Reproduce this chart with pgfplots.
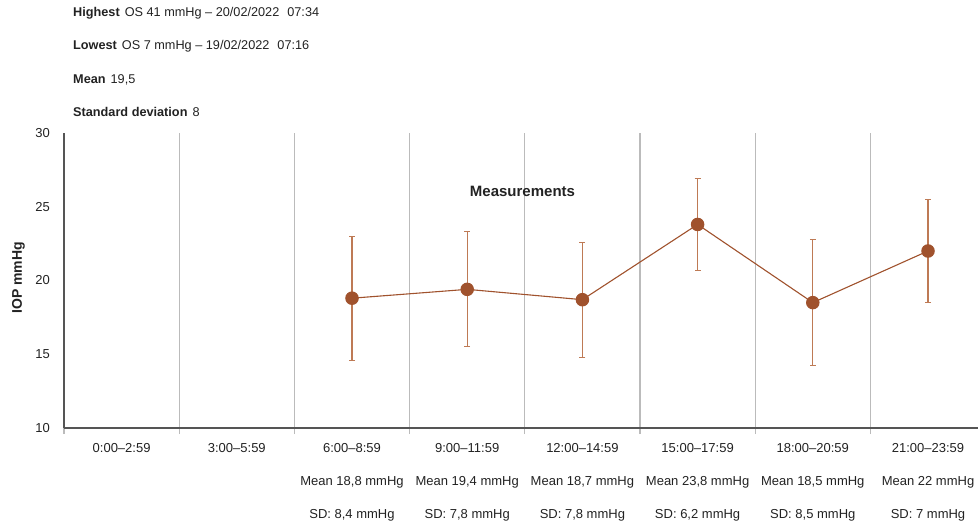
\documentclass[border=0pt]{standalone}
\usepackage{pgfplots}
\pgfplotsset{compat=1.18}
\usepackage{fontspec}
\setmainfont{Liberation Sans}
\definecolor{iop}{HTML}{A0522D}
\definecolor{iopbar}{HTML}{BE7A55}
\definecolor{txt}{HTML}{222222}
\definecolor{gridc}{HTML}{BBBBBB}
\definecolor{axc}{HTML}{555555}
\pgfplotstableread{
x y e
2 18.8 4.2
3 19.4 3.9
4 18.7 3.9
5 23.8 3.1
6 18.5 4.25
7 22.0 3.5
}\iopdata
\begin{document}
\begin{tikzpicture}
\begin{axis}[
  at={(64pt,-428pt)}, anchor=south west,
  scale only axis, width=914.7pt, height=295pt,
  xmin=-0.5, xmax=7.44, ymin=10, ymax=30,
  axis x line=bottom, axis y line=left,
  axis line style={-, axc, line width=1.1pt},
  /pgf/number format/assume math mode=true,
  ytick={10,15,20,25,30},
  major tick length=0pt,
  yticklabel style={font=\fontsize{13}{13}\selectfont, text=txt, inner xsep=0pt, xshift=-14pt},
  xtick={0,...,7},
  xticklabels={
    {0:00–2:59},
    {3:00–5:59},
    {6:00–8:59\\Mean 18,8 mmHg\\SD: 8,4 mmHg},
    {9:00–11:59\\Mean 19,4 mmHg\\SD: 7,8 mmHg},
    {12:00–14:59\\Mean 18,7 mmHg\\SD: 7,8 mmHg},
    {15:00–17:59\\Mean 23,8 mmHg\\SD: 6,2 mmHg},
    {18:00–20:59\\Mean 18,5 mmHg\\SD: 8,5 mmHg},
    {21:00–23:59\\Mean 22 mmHg\\SD: 7 mmHg}},
  xticklabel style={font=\fontsize{13}{33}\selectfont, text=txt, align=center, yshift=-12pt},
  minor xtick={-0.5,0.5,1.5,2.5,3.5,4.5,5.5,6.5},
  xminorgrids=true,
  minor grid style={gridc, line width=1.1pt},
  minor tick length=6pt,
  tick align=outside,
  minor x tick style={gridc, line width=1.1pt},
  clip=false,
]
\addplot[iop, line width=1.1pt, mark=*, mark size=6.2pt,
  mark options={fill=iop, draw=iop},
  error bars/.cd, y dir=both, y explicit,
  error bar style={iopbar, line width=1.3pt},
  error mark options={rotate=90, mark size=3pt, iopbar, line width=1.1pt}]
  table[x=x, y=y, y error=e] {\iopdata};
\node[font=\bfseries\fontsize{15}{15}\selectfont, text=txt] at (axis cs:3.48,26.07) {Measurements};
\end{axis}
\node[anchor=base west, text=txt, font=\fontsize{12.7}{12.7}\selectfont, inner sep=0pt] at (73pt,-17pt) {\textbf{Highest}\hspace{5pt}OS 41 mmHg – 20/02/2022\hspace{8pt}07:34};
\node[anchor=base west, text=txt, font=\fontsize{12.7}{12.7}\selectfont, inner sep=0pt] at (73pt,-49.6pt) {\textbf{Lowest}\hspace{5pt}OS 7 mmHg – 19/02/2022\hspace{8pt}07:16};
\node[anchor=base west, text=txt, font=\fontsize{12.7}{12.7}\selectfont, inner sep=0pt] at (73pt,-83.5pt) {\textbf{Mean}\hspace{5pt}19,5};
\node[anchor=base west, text=txt, font=\fontsize{12.7}{12.7}\selectfont, inner sep=0pt] at (73pt,-116.2pt) {\textbf{Standard deviation}\hspace{5pt}8};
\node[rotate=90, text=txt, font=\bfseries\fontsize{14}{14}\selectfont] at (18.5pt,-278pt) {IOP mmHg};
\pgfresetboundingbox
\useasboundingbox (0pt,0pt) rectangle (978pt,-521pt);
\end{tikzpicture}
\end{document}
